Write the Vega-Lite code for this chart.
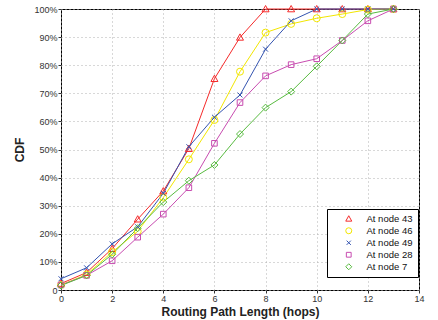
{
  "$schema": "https://vega.github.io/schema/vega-lite/v6.json",
  "width": 358,
  "height": 281,
  "autosize": {"type": "none"},
  "padding": {"left": 61, "top": 9, "right": 19, "bottom": 30},
  "background": "white",
  "config": {
    "font": "Liberation Sans",
    "view": {"stroke": "black", "strokeWidth": 1},
    "axis": {
      "labelFont": "Liberation Sans",
      "labelFontSize": 9,
      "labelColor": "#333333",
      "titleFont": "Liberation Sans",
      "titleFontSize": 12,
      "titleFontWeight": "bold",
      "titleColor": "#222222",
      "domain": false,
      "tickColor": "#333333",
      "tickSize": 3,
      "gridColor": "#b0b0b0",
      "gridDash": [1, 3],
      "gridWidth": 1,
      "gridOpacity": 1
    }
  },
  "data": {
    "values": [
      {"series": "At node 43", "hops": 0, "cdf": 2.3},
      {"series": "At node 43", "hops": 1, "cdf": 6.2},
      {"series": "At node 43", "hops": 2, "cdf": 14.7},
      {"series": "At node 43", "hops": 3, "cdf": 25.2},
      {"series": "At node 43", "hops": 4, "cdf": 35.2},
      {"series": "At node 43", "hops": 5, "cdf": 50.3},
      {"series": "At node 43", "hops": 6, "cdf": 75.2},
      {"series": "At node 43", "hops": 7, "cdf": 89.9},
      {"series": "At node 43", "hops": 8, "cdf": 100},
      {"series": "At node 43", "hops": 9, "cdf": 100},
      {"series": "At node 43", "hops": 10, "cdf": 100},
      {"series": "At node 43", "hops": 11, "cdf": 100},
      {"series": "At node 43", "hops": 12, "cdf": 100},
      {"series": "At node 43", "hops": 13, "cdf": 100},
      {"series": "At node 46", "hops": 0, "cdf": 1.8},
      {"series": "At node 46", "hops": 1, "cdf": 5.5},
      {"series": "At node 46", "hops": 2, "cdf": 13.5},
      {"series": "At node 46", "hops": 3, "cdf": 20.9},
      {"series": "At node 46", "hops": 4, "cdf": 32.9},
      {"series": "At node 46", "hops": 5, "cdf": 46.5},
      {"series": "At node 46", "hops": 6, "cdf": 60.5},
      {"series": "At node 46", "hops": 7, "cdf": 77.7},
      {"series": "At node 46", "hops": 8, "cdf": 91.6},
      {"series": "At node 46", "hops": 9, "cdf": 94.7},
      {"series": "At node 46", "hops": 10, "cdf": 96.7},
      {"series": "At node 46", "hops": 11, "cdf": 98.2},
      {"series": "At node 46", "hops": 12, "cdf": 99.8},
      {"series": "At node 46", "hops": 13, "cdf": 100},
      {"series": "At node 49", "hops": 0, "cdf": 4.0},
      {"series": "At node 49", "hops": 1, "cdf": 7.9},
      {"series": "At node 49", "hops": 2, "cdf": 16.4},
      {"series": "At node 49", "hops": 3, "cdf": 22.5},
      {"series": "At node 49", "hops": 4, "cdf": 34.4},
      {"series": "At node 49", "hops": 5, "cdf": 51.0},
      {"series": "At node 49", "hops": 6, "cdf": 61.5},
      {"series": "At node 49", "hops": 7, "cdf": 69.4},
      {"series": "At node 49", "hops": 8, "cdf": 85.7},
      {"series": "At node 49", "hops": 9, "cdf": 95.8},
      {"series": "At node 49", "hops": 10, "cdf": 100},
      {"series": "At node 49", "hops": 11, "cdf": 100},
      {"series": "At node 49", "hops": 12, "cdf": 100},
      {"series": "At node 49", "hops": 13, "cdf": 100},
      {"series": "At node 28", "hops": 0, "cdf": 1.8},
      {"series": "At node 28", "hops": 1, "cdf": 5.2},
      {"series": "At node 28", "hops": 2, "cdf": 10.4},
      {"series": "At node 28", "hops": 3, "cdf": 18.8},
      {"series": "At node 28", "hops": 4, "cdf": 27.0},
      {"series": "At node 28", "hops": 5, "cdf": 36.4},
      {"series": "At node 28", "hops": 6, "cdf": 52.2},
      {"series": "At node 28", "hops": 7, "cdf": 66.7},
      {"series": "At node 28", "hops": 8, "cdf": 76.2},
      {"series": "At node 28", "hops": 9, "cdf": 80.2},
      {"series": "At node 28", "hops": 10, "cdf": 82.3},
      {"series": "At node 28", "hops": 11, "cdf": 88.8},
      {"series": "At node 28", "hops": 12, "cdf": 95.8},
      {"series": "At node 28", "hops": 13, "cdf": 100},
      {"series": "At node 7", "hops": 0, "cdf": 1.6},
      {"series": "At node 7", "hops": 1, "cdf": 5.2},
      {"series": "At node 7", "hops": 2, "cdf": 12.7},
      {"series": "At node 7", "hops": 3, "cdf": 22.0},
      {"series": "At node 7", "hops": 4, "cdf": 31.3},
      {"series": "At node 7", "hops": 5, "cdf": 38.9},
      {"series": "At node 7", "hops": 6, "cdf": 44.5},
      {"series": "At node 7", "hops": 7, "cdf": 55.5},
      {"series": "At node 7", "hops": 8, "cdf": 64.9},
      {"series": "At node 7", "hops": 9, "cdf": 70.6},
      {"series": "At node 7", "hops": 10, "cdf": 79.6},
      {"series": "At node 7", "hops": 11, "cdf": 88.8},
      {"series": "At node 7", "hops": 12, "cdf": 98.2},
      {"series": "At node 7", "hops": 13, "cdf": 100}
    ]
  },
  "encoding": {
    "x": {
      "field": "hops",
      "type": "quantitative",
      "scale": {"domain": [0, 14], "nice": false, "zero": false},
      "axis": {"values": [0, 2, 4, 6, 8, 10, 12, 14], "title": "Routing Path Length (hops)", "titlePadding": 3, "labelPadding": 1, "labelFlush": false}
    },
    "y": {
      "field": "cdf",
      "type": "quantitative",
      "scale": {"domain": [0, 100], "nice": false},
      "axis": {
        "values": [0, 10, 20, 30, 40, 50, 60, 70, 80, 90, 100],
        "labelExpr": "datum.value === 0 ? '0' : datum.value + '%'",
        "title": "CDF",
        "titlePadding": 7,
        "labelPadding": 1
      }
    },
    "color": {
      "field": "series",
      "type": "nominal",
      "scale": {
        "domain": ["At node 43", "At node 46", "At node 49", "At node 28", "At node 7"],
        "range": ["#f52a2a", "#f2e600", "#3454b0", "#c84cb0", "#58bb40"]
      },
      "legend": {
        "title": null,
        "orient": "none",
        "legendX": 266,
        "legendY": 200,
        "strokeColor": "black",
        "fillColor": "white",
        "padding": 5,
        "symbolSize": 36,
        "symbolOffset": 12,
        "symbolStrokeWidth": 1,
        "labelOffset": 13,
        "labelFontSize": 9.5,
        "labelFont": "Liberation Sans",
        "labelColor": "#111111",
        "rowPadding": 1
      }
    }
  },
  "layer": [
    {
      "mark": {"type": "line", "strokeWidth": 1},
      "encoding": {"detail": {"field": "series"}}
    },
    {
      "mark": {"type": "point", "filled": false, "strokeWidth": 1, "size": 49, "opacity": 1},
      "encoding": {
        "shape": {
          "field": "series",
          "type": "nominal",
          "scale": {
            "domain": ["At node 43", "At node 46", "At node 49", "At node 28", "At node 7"],
            "range": [
              "M0,-1L1,0.8L-1,0.8Z",
              "circle",
              "M-0.7,-0.7L0.7,0.7M-0.7,0.7L0.7,-0.7",
              "M-0.8,-0.8H0.8V0.8H-0.8Z",
              "M0,-1L1,0L0,1L-1,0Z"
            ]
          },
          "legend": null
        }
      }
    }
  ]
}
